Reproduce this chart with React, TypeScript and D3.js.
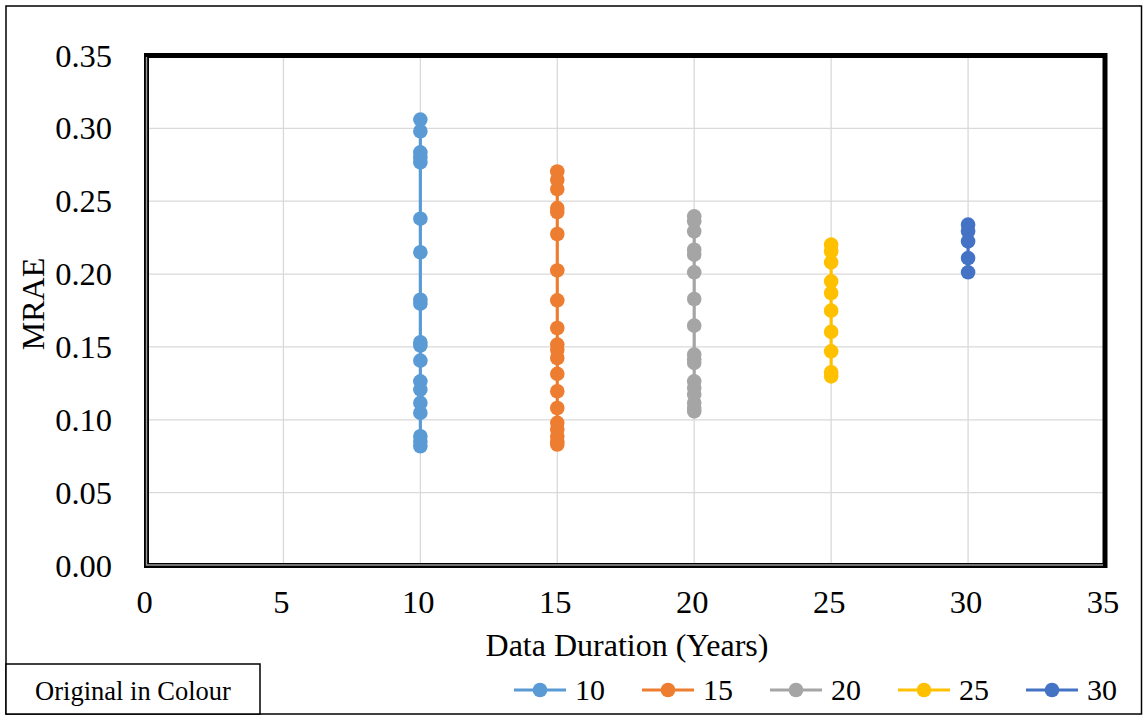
import React from "react";
import * as d3 from "d3";

const durations = [10, 15, 20, 25, 30];
const seriesNames = ["10", "15", "20", "25", "30"];
const colors = ["#5B9BD5", "#ED7D31", "#A5A5A5", "#FFC000", "#4472C4"];

const mrae10 = [0.306, 0.298, 0.2835, 0.28, 0.2766, 0.238, 0.215, 0.1824, 0.1797, 0.1532, 0.151, 0.1406, 0.1264, 0.1207, 0.1116, 0.1047, 0.0887, 0.0853, 0.0818];
const mrae15 = [0.2704, 0.2647, 0.2583, 0.2453, 0.2426, 0.2275, 0.2025, 0.182, 0.163, 0.1516, 0.148, 0.1424, 0.1315, 0.1196, 0.1081, 0.0979, 0.0933, 0.0887, 0.0853, 0.083];
const mrae20 = [0.2396, 0.2362, 0.2293, 0.2167, 0.2133, 0.2012, 0.1829, 0.1646, 0.1447, 0.1413, 0.139, 0.1264, 0.1218, 0.1173, 0.1116, 0.1081, 0.1058];
const mrae25 = [0.2202, 0.2156, 0.208, 0.195, 0.187, 0.1749, 0.1603, 0.147, 0.1326, 0.1298];
const mrae30 = [0.2339, 0.2293, 0.2224, 0.211, 0.2012];

const seriesValues = [mrae10, mrae15, mrae20, mrae25, mrae30];

const xTicks = [0, 5, 10, 15, 20, 25, 30, 35];
const yTicks = [0, 0.05, 0.1, 0.15, 0.2, 0.25, 0.3, 0.35];

const xTitle = "Data Duration (Years)";
const yTitle = "MRAE";
const noteText = "Original in Colour";

const FONT = "'Liberation Serif', 'Times New Roman', serif";

export default function App() {
  const W = 1146;
  const H = 716;
  const left = 146.5;
  const right = 1105;
  const top = 55.5;
  const bottom = 565.5;

  const x = d3.scaleLinear().domain([0, 35]).range([left, right]);
  const y = d3.scaleLinear().domain([0, 0.35]).range([bottom, top]);

  const line = d3
    .line<number>()
    .x(() => 0)
    .y((d) => y(d));

  return (
    <svg
      width={W}
      height={H}
      style={{ position: "absolute", left: 0, top: 0, background: "#fff" }}
      fontFamily={FONT}
    >
      <rect x={0} y={0} width={W} height={H} fill="#fff" />
      {/* outer border */}
      <rect x={6} y={6} width={1135.5} height={708} fill="none" stroke="#000" strokeWidth={1.5} />

      {/* gridlines */}
      {xTicks.map((t) => (
        <line key={"gx" + t} x1={x(t)} x2={x(t)} y1={top} y2={bottom} stroke="#d9d9d9" strokeWidth={1.3} />
      ))}
      {yTicks.map((t) => (
        <line key={"gy" + t} x1={left} x2={right} y1={y(t)} y2={y(t)} stroke="#d9d9d9" strokeWidth={1.3} />
      ))}

      {/* series */}
      {seriesValues.map((vals, i) => {
        const cx = x(durations[i]);
        return (
          <g key={"s" + i} transform={`translate(${cx},0)`}>
            <path d={line(vals) || ""} fill="none" stroke={colors[i]} strokeWidth={3.2} />
            {vals.map((v, j) => (
              <circle key={j} cx={0} cy={y(v)} r={7.3} fill={colors[i]} />
            ))}
          </g>
        );
      })}

      {/* plot frame */}
      <rect
        x={left}
        y={top}
        width={right - left}
        height={bottom - top}
        fill="none"
        stroke="#000"
        strokeWidth={5}
      />
      <path
        d={`M${left},${top + 1.5} L${left},${bottom - 0.5} L${right - 2},${bottom - 0.5}`}
        fill="none"
        stroke="#9a9a9a"
        strokeWidth={1.4}
      />

      {/* y tick labels */}
      {yTicks.map((t) => (
        <text key={"ty" + t} x={112} y={y(t) + 11} textAnchor="end" fontSize={32.5} fill="#000">
          {t.toFixed(2)}
        </text>
      ))}
      {/* x tick labels */}
      {xTicks.map((t) => (
        <text key={"tx" + t} x={x(t) - 2} y={613} textAnchor="middle" fontSize={32.5} fill="#000">
          {t}
        </text>
      ))}

      {/* axis titles */}
      <text x={627} y={656} textAnchor="middle" fontSize={32} fill="#000">
        {xTitle}
      </text>
      <text transform="translate(44,304) rotate(-90)" textAnchor="middle" fontSize={32} fill="#000">
        {yTitle}
      </text>

      {/* note box */}
      <rect x={6} y={664} width={254} height={50} fill="#fff" stroke="#000" strokeWidth={1.5} />
      <text x={133} y={700} textAnchor="middle" fontSize={26.5} fill="#000">
        {noteText}
      </text>

      {/* legend */}
      {seriesNames.map((name, i) => {
        const mx = 540 + i * 128;
        return (
          <g key={"lg" + i}>
            <line x1={mx - 26} x2={mx + 26} y1={690} y2={690} stroke={colors[i]} strokeWidth={3.2} />
            <circle cx={mx} cy={690} r={7.3} fill={colors[i]} />
            <text x={mx + 35} y={700} fontSize={30} fill="#000">
              {name}
            </text>
          </g>
        );
      })}
    </svg>
  );
}
